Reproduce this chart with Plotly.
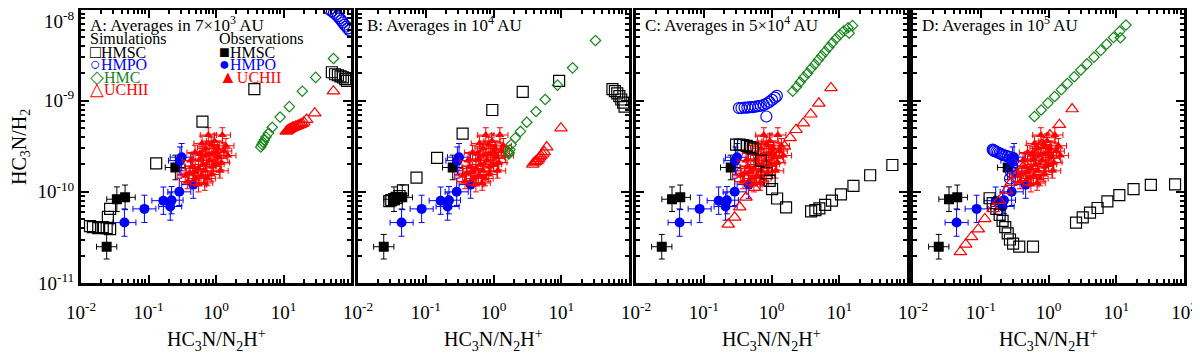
import plotly.graph_objects as go

# ---------------- observations (same in all panels) ----------------
obs_hmsc_x = [0.024, 0.034, 0.045, 0.25]
obs_hmsc_y = [2.5e-11, 8.3e-11, 8.7e-11, 1.85e-10]
obs_hmpo_x = [0.044, 0.087, 0.166, 0.21, 0.22, 0.286, 0.46, 0.293, 0.31]
obs_hmpo_y = [4.6e-11, 6.5e-11, 8.0e-11, 6.9e-11, 8.1e-11, 1.0e-10, 1.2e-10, 2.2e-10, 2.4e-10]
obs_uchii_x = [0.77, 1.24, 0.49, 0.60, 0.70, 0.85, 0.95, 1.05, 1.3, 1.1, 0.9, 0.8, 0.65, 0.55,
               0.45, 0.40, 0.35, 0.50, 0.60, 0.70, 0.75, 0.9, 1.0, 1.2, 1.5, 0.42, 0.58, 0.68,
               0.55, 0.85, 1.15, 1.4, 0.72, 0.62, 1.0, 0.38, 0.48]
obs_uchii_y = [4.2e-10, 4.2e-10, 2.7e-10, 2.3e-10, 3.0e-10, 3.3e-10, 3.6e-10, 3.0e-10, 2.8e-10,
               2.4e-10, 2.6e-10, 2.2e-10, 2.0e-10, 1.8e-10, 1.9e-10, 1.6e-10, 1.5e-10, 1.4e-10,
               1.5e-10, 1.7e-10, 1.4e-10, 1.9e-10, 2.0e-10, 2.1e-10, 2.5e-10, 2.2e-10, 2.6e-10,
               1.25e-10, 1.2e-10, 1.55e-10, 1.7e-10, 3.2e-10, 2.5e-10, 3.4e-10, 2.7e-10, 1.3e-10, 1.65e-10]
# error bar half-widths in dex
obs_hmsc_err = (0.15, 0.135)
obs_hmpo_err = (0.17, 0.15)
obs_uchii_err = (0.12, 0.08)

# ---------------- simulations, panel A ----------------
A_hmsc_x = [0.0136, 0.015, 0.018, 0.021, 0.024, 0.027, 0.025, 0.027, 0.13, 0.63, 3.7,
            52, 58, 64, 70, 76, 82, 87]
A_hmsc_y = [4.2e-11, 4.1e-11, 4.0e-11, 4.1e-11, 4.0e-11, 3.9e-11, 5.3e-11, 6.5e-11, 2.05e-10,
            5.9e-10, 1.34e-9, 2.05e-9, 1.95e-9, 1.9e-9, 1.85e-9, 1.8e-9, 1.72e-9, 1.65e-9]
A_hmpo_x = [48, 52, 56, 60, 64, 68, 72, 76, 80, 85, 90, 95]
A_hmpo_y = [1.0e-8, 9.6e-9, 9.2e-9, 8.8e-9, 8.4e-9, 8.0e-9, 7.6e-9, 7.2e-9, 6.8e-9, 6.5e-9, 6.2e-9, 5.9e-9]
A_hmc_x = [4.6, 4.8, 5.0, 5.2, 5.5, 6.0, 6.8, 8.9, 12.2, 19, 30, 55]
A_hmc_y = [3.1e-10, 3.3e-10, 3.5e-10, 3.7e-10, 4.0e-10, 4.4e-10, 5.1e-10, 6.6e-10, 8.6e-10,
           1.27e-9, 1.8e-9, 2.9e-9]
A_uchii_x = [11, 11.5, 12, 12.5, 13, 13.5, 14, 15, 16, 17, 18, 19, 20, 22, 29, 55]
A_uchii_y = [4.6e-10, 4.7e-10, 4.8e-10, 4.9e-10, 5.0e-10, 5.05e-10, 5.1e-10, 5.2e-10, 5.3e-10,
             5.4e-10, 5.5e-10, 5.6e-10, 5.8e-10, 6.2e-10, 7.3e-10, 1.27e-9]

# ---------------- simulations, panel B ----------------
B_hmsc_x = [0.029, 0.031, 0.034, 0.037, 0.041, 0.046, 0.073, 0.147, 0.35, 0.96, 2.7, 9.3,
            57, 62, 67, 72, 77, 82, 86]
B_hmsc_y = [7.9e-11, 8.1e-11, 8.3e-11, 8.6e-11, 9.0e-11, 1.04e-10, 1.43e-10, 2.36e-10, 4.35e-10,
            7.9e-10, 1.25e-9, 1.65e-9, 1.34e-9, 1.27e-9, 1.2e-9, 1.12e-9, 1.03e-9, 9.5e-10, 8.6e-10]
B_hmc_x = [1.68, 1.7, 1.75, 1.82, 2.1, 2.5, 3.1, 4.24, 5.8, 8.8, 14.7, 32]
B_hmc_y = [2.6e-10, 2.7e-10, 2.9e-10, 3.3e-10, 3.9e-10, 4.6e-10, 5.8e-10, 7.6e-10, 1.03e-9,
           1.48e-9, 2.29e-9, 4.57e-9]
B_uchii_x = [3.8, 4.0, 4.2, 4.4, 4.6, 4.8, 5.0, 5.3, 5.6, 6.1, 9.9]
B_uchii_y = [2.0e-10, 2.1e-10, 2.15e-10, 2.2e-10, 2.3e-10, 2.4e-10, 2.5e-10, 2.6e-10, 2.75e-10,
             3.1e-10, 5.0e-10]

# ---------------- simulations, panel C ----------------
C_hmsc_x = [0.30, 0.34, 0.38, 0.43, 0.48, 0.53, 0.7, 0.85, 0.94, 1.02, 1.21, 1.64, 3.84, 4.44,
            5.08, 6.2, 7.8, 10.6, 16.2, 28.6, 60.8]
C_hmsc_y = [3.3e-10, 3.3e-10, 3.25e-10, 3.2e-10, 3.1e-10, 3.0e-10, 2.2e-10, 1.6e-10, 1.32e-10,
            1.07e-10, 8.45e-11, 6.75e-11, 6.1e-11, 6.3e-11, 6.6e-11, 7.2e-11, 8.0e-11, 9.4e-11,
            1.16e-10, 1.52e-10, 1.97e-10]
C_hmpo_x = [0.33, 0.36, 0.40, 0.44, 0.48, 0.53, 0.58, 0.64, 0.70, 0.77, 0.85, 0.93, 1.02, 1.12,
            1.2, 0.84]
C_hmpo_y = [8.3e-10, 8.3e-10, 8.4e-10, 8.4e-10, 8.5e-10, 8.5e-10, 8.6e-10, 8.7e-10, 8.8e-10,
            9.0e-10, 9.3e-10, 9.7e-10, 1.02e-9, 1.08e-9, 1.13e-9, 6.7e-10]
C_hmc_x = [2.06, 2.35, 2.65, 3.0, 3.4, 3.85, 4.35, 4.9, 5.5, 6.2, 7.0, 7.9, 9.0, 10.2, 11.6,
           13.5, 15.7, 14.0]
C_hmc_y = [1.27e-9, 1.42e-9, 1.6e-9, 1.8e-9, 2.0e-9, 2.25e-9, 2.5e-9, 2.8e-9, 3.1e-9, 3.45e-9,
           3.85e-9, 4.3e-9, 4.8e-9, 5.3e-9, 5.8e-9, 6.3e-9, 6.65e-9, 5.5e-9]
C_uchii_x = [0.23, 0.286, 0.34, 0.42, 0.56, 0.70, 0.88, 1.1, 1.3, 1.55, 1.88, 2.3, 2.95, 3.8,
             5.0, 7.55]
C_uchii_y = [4.4e-11, 5.25e-11, 6.8e-11, 8.7e-11, 1.11e-10, 1.4e-10, 1.75e-10, 2.2e-10, 2.6e-10,
             3.16e-10, 3.9e-10, 4.8e-10, 5.66e-10, 7.1e-10, 9.35e-10, 1.38e-9]

# ---------------- simulations, panel D ----------------
D_hmsc_x = [0.135, 0.15, 0.17, 0.19, 0.21, 0.23, 0.25, 0.27, 0.3, 0.37, 0.59,
            2.55, 3.2, 4.1, 5.3, 7.4, 11.1, 18, 32.4, 73.8]
D_hmsc_y = [8.5e-11, 7.5e-11, 6.5e-11, 5.6e-11, 4.8e-11, 4.1e-11, 3.5e-11, 3.0e-11, 2.7e-11,
            2.5e-11, 2.5e-11, 4.6e-11, 5.25e-11, 5.9e-11, 6.65e-11, 7.85e-11, 9.2e-11, 1.07e-10,
            1.19e-10, 1.21e-10]
D_hmpo_x = [0.15, 0.155, 0.16, 0.17, 0.18, 0.19, 0.2, 0.21, 0.23, 0.25, 0.27, 0.29, 0.3, 0.29,
            0.28, 0.27]
D_hmpo_y = [2.9e-10, 2.85e-10, 2.8e-10, 2.75e-10, 2.7e-10, 2.65e-10, 2.6e-10, 2.55e-10, 2.5e-10,
            2.45e-10, 2.4e-10, 2.3e-10, 2.2e-10, 1.9e-10, 1.65e-10, 1.4e-10]
D_hmc_x = [0.62, 0.78, 0.98, 1.23, 1.55, 1.9, 2.4, 3.0, 3.7, 4.7, 5.9, 7.2, 9.1, 11.2, 13.9, 11.5]
D_hmc_y = [6.7e-10, 7.9e-10, 9.4e-10, 1.11e-9, 1.32e-9, 1.54e-9, 1.83e-9, 2.17e-9, 2.53e-9,
           3.0e-9, 3.56e-9, 4.16e-9, 4.93e-9, 5.75e-9, 6.75e-9, 4.9e-9]
D_uchii_x = [0.05, 0.06, 0.073, 0.092, 0.115, 0.152, 0.186, 0.24, 0.28, 0.35, 0.45, 0.6, 0.8,
             1.05, 1.45, 2.23]
D_uchii_y = [2.19e-11, 2.65e-11, 3.2e-11, 3.9e-11, 5.05e-11, 6.5e-11, 8.0e-11, 1.03e-10, 1.26e-10,
             1.55e-10, 2.0e-10, 2.6e-10, 3.3e-10, 4.2e-10, 5.45e-10, 8.1e-10]

panel_titles = ["A: Averages in 7×10<sup>3</sup> AU", "B: Averages in 10<sup>4</sup> AU",
                "C: Averages in 5×10<sup>4</sup> AU", "D: Averages in 10<sup>5</sup> AU"]
x_tickvals = [0.01, 0.1, 1, 10, 100]
x_ticktext_short = ["10<sup>-2</sup>", "10<sup>-1</sup>", "10<sup>0</sup>", "10<sup>1</sup>", ""]
x_ticktext_full = ["10<sup>-2</sup>", "10<sup>-1</sup>", "10<sup>0</sup>", "10<sup>1</sup>", "10<sup>2</sup>"]
y_tickvals = [1e-11, 1e-10, 1e-9, 1e-8]
y_ticktext = ["10<sup>-11</sup>", "10<sup>-10</sup>", "10<sup>-9</sup>", ""]
y_top_label = "10<sup>-8</sup>"

# ---------------- styling ----------------
W, H = 1200, 355
OFF = 8  # page body margin offset of the rendered figure
FONT = "Liberation Serif, Times New Roman, serif"
BLACK, BLUE, GREEN, RED = "#000000", "#0000FF", "#15871A", "#FF0000"
panels_px = [(81, 351), (358, 629), (636, 907), (913, 1184)]
top_px, bot_px = 9.5, 283


def px_x(px):
    return (px - OFF) / W


def px_y(py):
    return min(1.0, 1 - (py - OFF) / H)


fig = go.Figure()


def errs(vals, dex):
    plus = [v * (10 ** dex - 1) for v in vals]
    minus = [v * (1 - 10 ** (-dex)) for v in vals]
    return plus, minus


def add_obs(i):
    xa, ya = ("x" if i == 0 else f"x{i+1}"), ("y" if i == 0 else f"y{i+1}")
    for xs, ys, err, sym, col, size in [
        (obs_hmsc_x, obs_hmsc_y, obs_hmsc_err, "square", BLACK, 10),
        (obs_hmpo_x, obs_hmpo_y, obs_hmpo_err, "circle", BLUE, 10),
        (obs_uchii_x, obs_uchii_y, obs_uchii_err, "triangle-up", RED, 8),
    ]:
        xp, xm = errs(xs, err[0])
        yp, ym = errs(ys, err[1])
        fig.add_trace(go.Scatter(
            x=xs, y=ys, mode="markers", xaxis=xa, yaxis=ya, showlegend=False,
            marker=dict(symbol=sym, color=col, size=size, line=dict(width=0)),
            error_x=dict(type="data", array=xp, arrayminus=xm, color=col, thickness=1, width=3),
            error_y=dict(type="data", array=yp, arrayminus=ym, color=col, thickness=1, width=3),
        ))


def add_sim(i, xs, ys, sym, col, size):
    xa, ya = ("x" if i == 0 else f"x{i+1}"), ("y" if i == 0 else f"y{i+1}")
    fig.add_trace(go.Scatter(
        x=xs, y=ys, mode="markers", xaxis=xa, yaxis=ya, showlegend=False,
        marker=dict(symbol=sym, color=col, size=size, line=dict(width=1.2, color=col)),
    ))


sims = [
    [(A_hmsc_x, A_hmsc_y, "square-open", BLACK, 11), (A_hmpo_x, A_hmpo_y, "circle-open", BLUE, 11),
     (A_hmc_x, A_hmc_y, "diamond-open", GREEN, 8), (A_uchii_x, A_uchii_y, "triangle-up-open", RED, 11)],
    [(B_hmsc_x, B_hmsc_y, "square-open", BLACK, 11),
     (B_hmc_x, B_hmc_y, "diamond-open", GREEN, 8), (B_uchii_x, B_uchii_y, "triangle-up-open", RED, 11)],
    [(C_hmsc_x, C_hmsc_y, "square-open", BLACK, 11), (C_hmpo_x, C_hmpo_y, "circle-open", BLUE, 11),
     (C_hmc_x, C_hmc_y, "diamond-open", GREEN, 8), (C_uchii_x, C_uchii_y, "triangle-up-open", RED, 11)],
    [(D_hmsc_x, D_hmsc_y, "square-open", BLACK, 11), (D_hmpo_x, D_hmpo_y, "circle-open", BLUE, 11),
     (D_hmc_x, D_hmc_y, "diamond-open", GREEN, 8), (D_uchii_x, D_uchii_y, "triangle-up-open", RED, 11)],
]

minor_x = [m * 10 ** k for k in range(-2, 2) for m in range(2, 10)]
minor_y = [m * 10 ** k for k in range(-11, -8) for m in range(2, 10)]

layout = dict(
    width=W, height=H, margin=dict(l=0, r=0, t=0, b=0, pad=0, autoexpand=False),
    paper_bgcolor="white", plot_bgcolor="white",
    font=dict(family=FONT, size=17, color="black"),
    showlegend=False,
)
annotations = []
ydom = [px_y(bot_px), px_y(top_px)]
for i, (l, r) in enumerate(panels_px):
    add_obs(i)
    for s in sims[i]:
        add_sim(i, *s)
    xk = "xaxis" if i == 0 else f"xaxis{i+1}"
    yk = "yaxis" if i == 0 else f"yaxis{i+1}"
    xa = "x" if i == 0 else f"x{i+1}"
    ya = "y" if i == 0 else f"y{i+1}"
    layout[xk] = dict(
        type="log", range=[-2, 2], domain=[px_x(l), px_x(r)], anchor=ya, automargin=False,
        showline=True, linewidth=3, linecolor="black", mirror="allticks",
        ticks="inside", ticklen=8, tickwidth=2, tickcolor="black",
        tickmode="array", tickvals=x_tickvals, ticklabelstandoff=10, ticklabeloverflow="allow",
        ticktext=x_ticktext_full if i == 3 else x_ticktext_short,
        tickfont=dict(family=FONT, size=19), showgrid=False, zeroline=False,
        minor=dict(ticks="inside", ticklen=4, tickwidth=1.5, tickcolor="black",
                   tickmode="array", tickvals=minor_x, showgrid=False),
    )
    layout[yk] = dict(
        type="log", range=[-11, -8], domain=ydom, anchor=xa, automargin=False,
        showline=True, linewidth=3, linecolor="black", mirror="allticks",
        ticks="inside", ticklen=8, tickwidth=2, tickcolor="black",
        tickmode="array", tickvals=y_tickvals, ticktext=y_ticktext, ticklabeloverflow="allow",
        showticklabels=(i == 0),
        tickfont=dict(family=FONT, size=19), showgrid=False, zeroline=False,
        minor=dict(ticks="inside", ticklen=4, tickwidth=1.5, tickcolor="black",
                   tickmode="array", tickvals=minor_y, showgrid=False),
    )
    annotations.append(dict(
        x=px_x(l + 7), y=px_y(24), xref="paper", yref="paper", xanchor="left", yanchor="middle",
        text=panel_titles[i], showarrow=False, font=dict(family=FONT, size=17, color="black")))
    annotations.append(dict(
        x=px_x((l + r) / 2), y=px_y(340), xref="paper", yref="paper", xanchor="center",
        yanchor="middle", text="HC<sub>3</sub>N/N<sub>2</sub>H<sup>+</sup>", showarrow=False,
        font=dict(family=FONT, size=20, color="black")))

# top y tick label (kept inside the page)
annotations.append(dict(
    x=px_x(76), y=px_y(20), xref="paper", yref="paper", xanchor="right", yanchor="middle",
    text=y_top_label, showarrow=False, font=dict(family=FONT, size=19, color="black")))

annotations.append(dict(
    x=px_x(21), y=px_y(147), xref="paper", yref="paper", xanchor="center", yanchor="middle",
    text="HC<sub>3</sub>N/H<sub>2</sub>", textangle=-90, showarrow=False,
    font=dict(family=FONT, size=20, color="black")))

SYM = "<span style='font-size:18px'>{}</span>{}"
legend_items = [
    ("Simulations", BLACK, 88, 39), (SYM.format("□", "HMSC"), BLACK, 88, 52),
    (SYM.format("○", "HMPO"), BLUE, 88, 64), (SYM.format("◇", "HMC"), GREEN, 88, 77),
    (SYM.format("△", "UCHII"), RED, 88, 89),
    ("Observations", BLACK, 217, 39), (SYM.format("■", "HMSC"), BLACK, 217, 52),
    (SYM.format("●", "HMPO"), BLUE, 217, 64), (SYM.format("▲", "UCHII"), RED, 217, 77),
]
for txt, col, px, py in legend_items:
    annotations.append(dict(
        x=px_x(px), y=px_y(py), xref="paper", yref="paper", xanchor="left", yanchor="middle",
        text=txt, showarrow=False, font=dict(family=FONT, size=16, color=col)))

layout["annotations"] = annotations
fig.update_layout(**layout)
fig.write_html("out.html")
